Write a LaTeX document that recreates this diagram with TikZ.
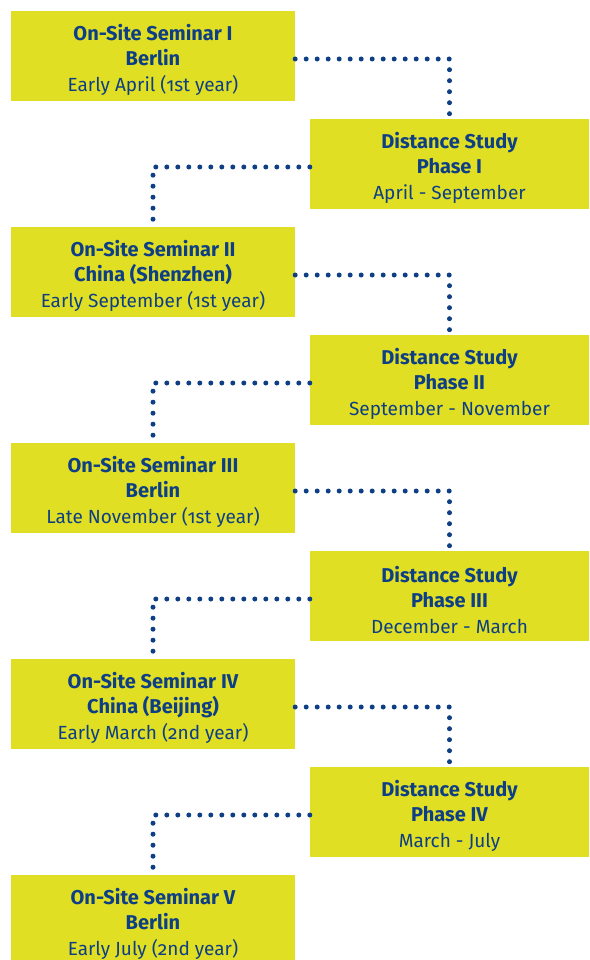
\documentclass[tikz,border=0pt]{standalone}
\usepackage{fontspec}
\setmainfont{Fira Sans}[Numbers=OldStyle]
\definecolor{boxyellow}{HTML}{E0DF24}
\definecolor{textblue}{HTML}{0E3F85}
\newcommand{\hd}[1]{{\fontsize{20}{25.5}\selectfont\bfseries #1}}
\begin{document}
\begin{tikzpicture}[x=1pt,y=-1pt,
  box/.style={fill=boxyellow, draw=none, minimum height=90pt, inner sep=0pt},
  lbox/.style={box, minimum width=284pt},
  rbox/.style={box, minimum width=279pt},
  txt/.style={text=textblue, align=center, inner sep=0pt, font=\fontsize{19}{25.5}\selectfont},
  dots/.style={draw=textblue, line width=5pt, dash pattern=on 0pt off 11pt, line cap=round}]
\useasboundingbox (0,0) rectangle (589,960);
\node[lbox] (b1) at (153,56) {};
\node[rbox] (b2) at (449.5,164) {};
\node[lbox] (b3) at (153,272) {};
\node[rbox] (b4) at (449.5,380) {};
\node[lbox] (b5) at (153,488) {};
\node[rbox] (b6) at (449.5,596) {};
\node[lbox] (b7) at (153,704) {};
\node[rbox] (b8) at (449.5,812) {};
\node[lbox] (b9) at (153,920) {};
\node[txt] (t1) at ([yshift=-3.5pt]b1.center) {\hd{On-Site Seminar I}\\\hd{Berlin}\\Early April (1st year)};
\node[txt] (t2) at ([yshift=-3.5pt]b2.center) {\hd{Distance Study}\\\hd{Phase I}\\April - September};
\node[txt] (t3) at ([yshift=-3.5pt]b3.center) {\hd{On-Site Seminar II}\\\hd{China (Shenzhen)}\\Early September (1st year)};
\node[txt] (t4) at ([yshift=-3.5pt]b4.center) {\hd{Distance Study}\\\hd{Phase II}\\September - November};
\node[txt] (t5) at ([yshift=-3.5pt]b5.center) {\hd{On-Site Seminar III}\\\hd{Berlin}\\Late November (1st year)};
\node[txt] (t6) at ([yshift=-3.5pt]b6.center) {\hd{Distance Study}\\\hd{Phase III}\\December - March};
\node[txt] (t7) at ([yshift=-3.5pt]b7.center) {\hd{On-Site Seminar IV}\\\hd{China (Beijing)}\\Early March (2nd year)};
\node[txt] (t8) at ([yshift=-3.5pt]b8.center) {\hd{Distance Study}\\\hd{Phase IV}\\March - July};
\node[txt] (t9) at ([yshift=-3.5pt]b9.center) {\hd{On-Site Seminar V}\\\hd{Berlin}\\Early July (2nd year)};
\foreach \a/\b in {b1/b2,b3/b4,b5/b6,b7/b8}
  \draw[dots] ([yshift=-3pt]\a.east) -| (\b.north);
\foreach \a/\b in {b2/b3,b4/b5,b6/b7,b8/b9}
  \draw[dots] ([yshift=-3pt]\a.west) -| (\b.north);
\end{tikzpicture}
\end{document}
